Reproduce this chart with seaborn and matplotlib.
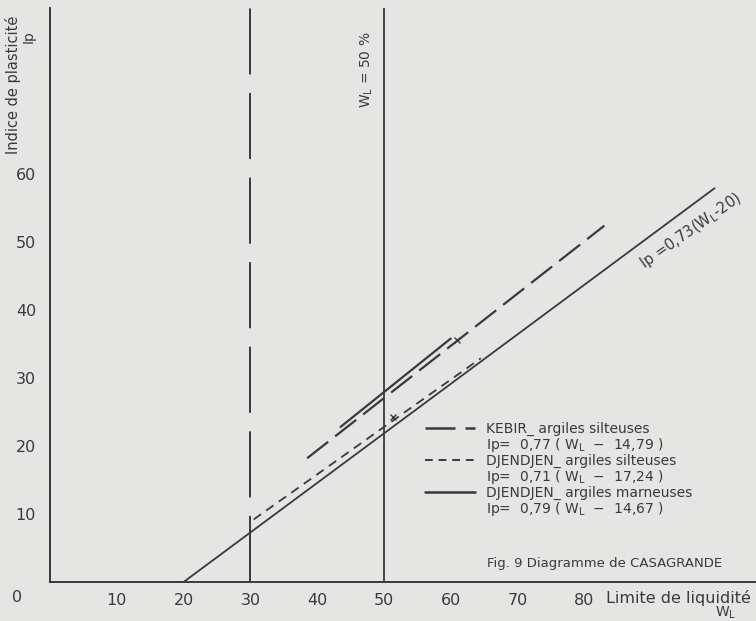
import matplotlib
matplotlib.use("Agg")
import matplotlib.pyplot as plt
from matplotlib.lines import Line2D
import seaborn as sns

# Values (WL = liquid limit, Ip = plasticity index)
aline_wl = [20, 99.5]
aline_ip = [0, 57.9]

kebir_wl = [38.5, 83.0]
kebir_ip = [18.2, 52.4]

dj_silt_wl = [30.5, 64.5]
dj_silt_ip = [9.2, 32.9]

dj_marn_wl = [43.5, 60.0]
dj_marn_ip = [22.8, 35.8]

mark_wl = [61.0, 51.3]
mark_ip = [35.6, 24.2]

vert_dashed = 30
vert_solid = 50

x_ticks = [10, 20, 30, 40, 50, 60, 70, 80]
y_ticks = [10, 20, 30, 40, 50, 60]

legend_lines = [
    "KEBIR_ argiles silteuses",
    "Ip=  0,77 ( W$_\\mathregular{L}$  \u2212  14,79 )",
    "DJENDJEN_ argiles silteuses",
    "Ip=  0,71 ( W$_\\mathregular{L}$  \u2212  17,24 )",
    "DJENDJEN_ argiles marneuses",
    "Ip=  0,79 ( W$_\\mathregular{L}$  \u2212  14,67 )",
]

bg = "#e5e5e3"
ink = "#3a3a3a"

sns.set_style("white")
plt.rcParams["font.family"] = ["DejaVu Sans"]
plt.rcParams["text.color"] = ink

fig = plt.figure(figsize=(7.56, 6.21), dpi=100, facecolor=bg)
ax = fig.add_axes([50 / 756, 39 / 621, 706 / 756, 574 / 621], facecolor=bg)

# reference lines
ax.axvline(vert_solid, color=ink, lw=1.3)
ax.axvline(vert_dashed, color=ink, lw=1.4, ls=(0, (34, 9.5)))

sns.lineplot(x=aline_wl, y=aline_ip, ax=ax, color=ink, lw=1.3)
sns.lineplot(x=kebir_wl, y=kebir_ip, ax=ax, color=ink, lw=1.6, ls=(0, (12, 4)))
sns.lineplot(x=dj_silt_wl, y=dj_silt_ip, ax=ax, color=ink, lw=1.3, ls=(0, (5, 3.5)))
sns.lineplot(x=dj_marn_wl, y=dj_marn_ip, ax=ax, color=ink, lw=1.6)
sns.scatterplot(x=mark_wl, y=mark_ip, ax=ax, marker="x", s=18, color=ink, linewidth=1.0)

ax.set_xlim(0, 105.7)
ax.set_ylim(0, 84.4)
ax.set_xticks(x_ticks)
ax.set_yticks(y_ticks)
ax.tick_params(axis="x", length=3, pad=5, labelsize=11.5, colors=ink, width=1)
ax.tick_params(axis="y", length=4, pad=6, labelsize=11.5, colors=ink, width=1)
sns.despine(ax=ax)
for s in ["left", "bottom"]:
    ax.spines[s].set_color(ink)
    ax.spines[s].set_linewidth(1.4)

# axis annotations
ax.annotate("0", xy=(0, 0), xytext=(-33, -16), textcoords="offset pixels",
            fontsize=11.5, ha="center", va="center")
ax.annotate("Limite de liquidité", xy=(1, 0), xycoords="axes fraction",
            xytext=(-5, -16), textcoords="offset pixels",
            fontsize=11.5, ha="right", va="center")
ax.annotate("W$_\\mathregular{L}$", xy=(1, 0), xycoords="axes fraction",
            xytext=(-30, -31), textcoords="offset pixels",
            fontsize=10, ha="center", va="center")
fig.text(13 / 756, 1 - 85 / 621, "Indice de plasticité", rotation=90,
         fontsize=10.5, ha="center", va="center")
fig.text(29 / 756, 1 - 37 / 621, "Ip", rotation=90,
         fontsize=10, ha="center", va="center")
fig.text(367 / 756, 1 - 70 / 621, "W$_\\mathregular{L}$ = 50 %", rotation=90,
         fontsize=10, ha="center", va="center")
fig.text(691 / 756, 1 - 231 / 621, "Ip =0,73(W$_\\mathregular{L}$-20)",
         rotation=35, fontsize=10.5, ha="center", va="center",
         rotation_mode="anchor")

# legend: one row per text line, line sample on the first line of each pair
styles = [dict(lw=1.8, ls=(0, (12, 4))), dict(lw=1.4, ls=(0, (4, 3))), dict(lw=1.8, ls="-")]
handles = []
for st in styles:
    handles.append(Line2D([], [], color=ink, **st))
    handles.append(Line2D([], [], color="none"))
ax.legend(handles, legend_lines, loc="upper left", bbox_to_anchor=(418 / 756, 1 - 415 / 621),
          bbox_transform=fig.transFigure, frameon=False, fontsize=10,
          handlelength=3.6, handletextpad=0.8, labelspacing=0.0, borderpad=0)

fig.text(487 / 756, 1 - 563 / 621, "Fig. 9 Diagramme de CASAGRANDE",
         fontsize=9.5, ha="left", va="center")

plt.savefig("out.png", dpi=100, facecolor=bg)
